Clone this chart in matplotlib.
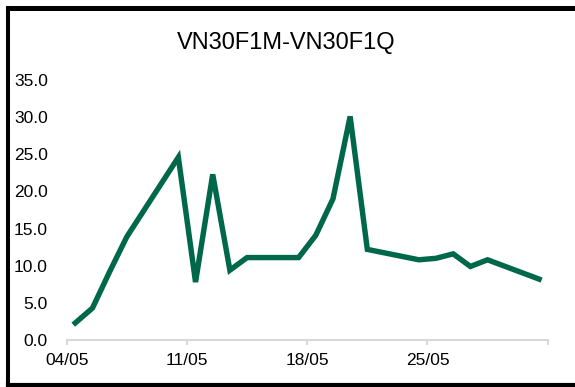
import matplotlib
matplotlib.use('Agg')
import matplotlib.pyplot as plt
from matplotlib.lines import Line2D
import pandas as pd

plt.rcParams['font.family'] = ['Liberation Sans', 'DejaVu Sans']

# VN30F1M - VN30F1Q spread
dates = ['2021-05-04', '2021-05-05', '2021-05-06', '2021-05-07', '2021-05-10',
         '2021-05-11', '2021-05-12', '2021-05-13', '2021-05-14', '2021-05-17',
         '2021-05-18', '2021-05-19', '2021-05-20', '2021-05-21', '2021-05-24',
         '2021-05-25', '2021-05-26', '2021-05-27', '2021-05-28', '2021-05-31']
spread = [2.3, 4.3, 9.2, 13.9, 24.6,
          7.8, 22.3, 9.4, 11.1, 11.1,
          14.1, 19.0, 30.1, 12.2, 10.8,
          11.0, 11.6, 9.9, 10.8, 8.2]
tick_dates = ['2021-05-04', '2021-05-11', '2021-05-18', '2021-05-25', '2021-06-01']
tick_labels = ['04/05', '11/05', '18/05', '25/05', '']
title = 'VN30F1M-VN30F1Q'

x = pd.to_datetime(dates) + pd.Timedelta(hours=12)
ticks = pd.to_datetime(tick_dates)

fig = plt.figure(figsize=(5.75, 3.87), dpi=100)
ax = fig.add_axes([0.116, 0.1214, 0.8365, 0.6718])

ax.plot(x, spread, color='#00684A', linewidth=3.9, solid_joinstyle='miter')

ax.set_xlim(ticks[0], ticks[-1])
ax.set_ylim(0, 35)
yt = [0, 5, 10, 15, 20, 25, 30, 35]
ax.set_yticks(yt)
ax.set_yticklabels([f'{v:.1f}' for v in yt])
ax.set_xticks(ticks)
ax.set_xticklabels(tick_labels)

for s in ['top', 'right', 'left']:
    ax.spines[s].set_visible(False)
ax.spines['bottom'].set_color('#d9d9d9')
ax.spines['bottom'].set_linewidth(1.5)
ax.tick_params(axis='y', length=0, pad=13.5, labelsize=12.5)
ax.tick_params(axis='x', length=3.6, width=1.5, color='#d9d9d9', pad=6, labelsize=12.5)

fig.text(0.497, 0.889, title, ha='center', va='center', fontsize=17)

# frame around the chart (right edge cropped off)
fig.add_artist(Line2D([0.0139, 1], [0.9806, 0.9806], color='black', linewidth=3.6,
                      transform=fig.transFigure, solid_capstyle='projecting'))
fig.add_artist(Line2D([0.0139, 0.0139], [0.0, 0.9806], color='black', linewidth=2.9,
                      transform=fig.transFigure))
fig.add_artist(Line2D([0.0139, 1], [0.005, 0.005], color='black', linewidth=3.0,
                      transform=fig.transFigure))

fig.savefig('out.png', dpi=100)
